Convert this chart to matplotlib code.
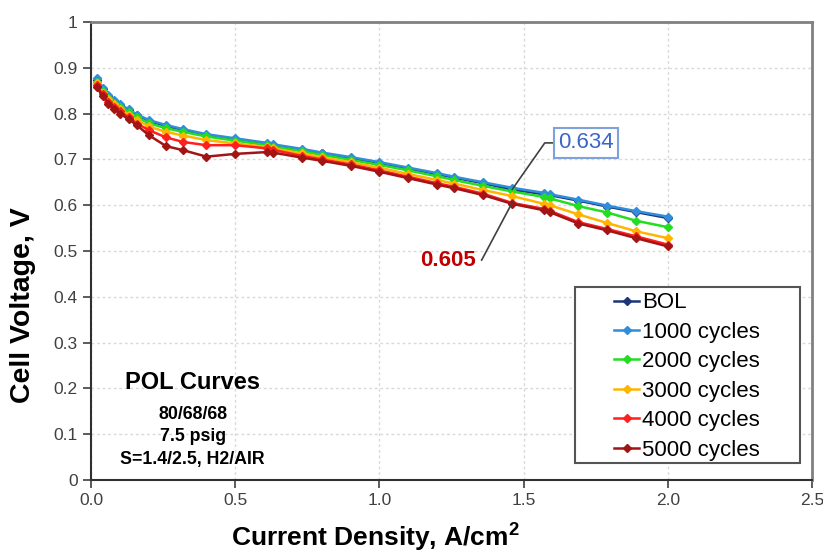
import matplotlib
matplotlib.use("Agg")
import matplotlib.pyplot as plt
from matplotlib.patches import Rectangle

plt.rcParams['font.family'] = ['Liberation Sans', 'DejaVu Sans']

# current density, A/cm2
current = [0.02, 0.04, 0.06, 0.08, 0.10, 0.13, 0.16, 0.20, 0.26, 0.32, 0.40, 0.50, 0.61, 0.63,
           0.73, 0.80, 0.90, 1.00, 1.10, 1.20, 1.26, 1.36, 1.46, 1.57, 1.59, 1.69, 1.79, 1.89, 2.00]

v_bol = [0.874, 0.853, 0.839, 0.828, 0.819, 0.807, 0.796, 0.784, 0.773, 0.764, 0.753, 0.744, 0.734, 0.731,
         0.721, 0.713, 0.703, 0.692, 0.680, 0.668, 0.660, 0.648, 0.634, 0.624, 0.622, 0.610, 0.597, 0.585, 0.572]
v_1000 = [0.877, 0.856, 0.841, 0.830, 0.821, 0.809, 0.798, 0.786, 0.775, 0.766, 0.755, 0.746, 0.736, 0.733,
          0.723, 0.715, 0.705, 0.694, 0.682, 0.670, 0.662, 0.650, 0.638, 0.627, 0.624, 0.612, 0.599, 0.587, 0.575]
v_2000 = [0.870, 0.850, 0.835, 0.824, 0.815, 0.803, 0.792, 0.779, 0.768, 0.760, 0.750, 0.741, 0.731, 0.728,
          0.718, 0.710, 0.699, 0.688, 0.676, 0.663, 0.655, 0.642, 0.630, 0.618, 0.615, 0.598, 0.584, 0.566, 0.552]
v_3000 = [0.866, 0.846, 0.831, 0.820, 0.810, 0.798, 0.786, 0.772, 0.760, 0.752, 0.742, 0.735, 0.727, 0.724,
          0.713, 0.705, 0.694, 0.682, 0.668, 0.655, 0.647, 0.633, 0.620, 0.603, 0.600, 0.580, 0.561, 0.543, 0.528]
v_4000 = [0.862, 0.842, 0.826, 0.815, 0.805, 0.792, 0.778, 0.764, 0.748, 0.738, 0.731, 0.731, 0.724, 0.721,
          0.708, 0.700, 0.689, 0.676, 0.662, 0.648, 0.640, 0.625, 0.605, 0.592, 0.588, 0.563, 0.548, 0.532, 0.514]
v_5000 = [0.858, 0.838, 0.822, 0.810, 0.800, 0.788, 0.774, 0.753, 0.729, 0.720, 0.706, 0.712, 0.716, 0.715,
          0.704, 0.697, 0.686, 0.673, 0.659, 0.645, 0.637, 0.622, 0.603, 0.589, 0.585, 0.560, 0.545, 0.528, 0.510]

labels = ["BOL", "1000 cycles", "2000 cycles", "3000 cycles", "4000 cycles", "5000 cycles"]
colors = ["#1c3478", "#2f8ddb", "#22dd22", "#ffb400", "#ff1f1f", "#a31515"]
series = [v_bol, v_1000, v_2000, v_3000, v_4000, v_5000]

fig = plt.figure(figsize=(8.23, 5.54), dpi=100)
ax = fig.add_axes([0.1106, 0.1336, 0.876, 0.8267])

for vals, lab, col in zip(series, labels, colors):
    ax.plot(current, vals, color=col, lw=1.8, marker="D", ms=4.5, label=lab)

ax.set_xlim(0, 2.5)
ax.set_ylim(0, 1)
ax.set_xticks([0, 0.5, 1.0, 1.5, 2.0, 2.5])
ax.set_xticklabels(["0.0", "0.5", "1.0", "1.5", "2.0", "2.5"])
ax.set_yticks([i / 10 for i in range(11)])
ax.set_yticklabels(["0", "0.1", "0.2", "0.3", "0.4", "0.5", "0.6", "0.7", "0.8", "0.9", "1"])
ax.tick_params(labelsize=12.5, labelcolor="#404040", color="#404040", length=6, width=1.2)
ax.grid(True, color="#d9d9d9", linestyle=(0, (2, 2)), lw=1)
ax.set_axisbelow(True)

for s in ["left", "bottom"]:
    ax.spines[s].set_color("#303030")
    ax.spines[s].set_linewidth(1.5)
for s in ["top", "right"]:
    ax.spines[s].set_color("#808080")
    ax.spines[s].set_linewidth(2)

ax.set_xlabel("Current Density, A/cm$^\\mathregular{2}$", fontsize=19, fontweight="bold")
ax.xaxis.set_label_coords(0.394, -0.088)
ax.set_ylabel("Cell Voltage, V", fontsize=20.5, fontweight="bold")
ax.yaxis.set_label_coords(-0.076, 0.382)

# legend with framed box
ax.add_patch(Rectangle((0.671, 0.037), 0.312, 0.384, transform=ax.transAxes,
                       fill=True, facecolor="white", edgecolor="#555555", lw=1.5, zorder=4))
leg = ax.legend(loc="center", bbox_to_anchor=(0.827, 0.226), frameon=False, fontsize=16,
                handlelength=1.1, handletextpad=0.15, labelspacing=0.38, borderpad=0)
leg.set_zorder(5)

# condition text
ax.text(0.141, 0.212, "POL Curves", transform=ax.transAxes, ha="center", va="center",
        fontsize=17, fontweight="bold")
cond = "80/68/68\n7.5 psig\nS=1.4/2.5, H2/AIR"
ax.text(0.141, 0.094, cond, transform=ax.transAxes, ha="center", va="center",
        fontsize=12.8, fontweight="bold", linespacing=1.45)

# value call-outs at 1.46 A/cm2
ax.annotate("0.634", xy=(current[22], v_bol[22]), xytext=(1.716, 0.736),
            ha="center", va="center", fontsize=16, color="#3a66c4",
            bbox=dict(boxstyle="square,pad=0.2", fc="white", ec="#7fa2dd", lw=1.5),
            arrowprops=dict(arrowstyle="-", color="#404040", lw=1.2,
                            connectionstyle="angle,angleA=0,angleB=55,rad=0", shrinkA=0, shrinkB=0))
ax.annotate("0.605", xy=(current[22], v_4000[22]), xytext=(1.238, 0.48),
            ha="center", va="center", fontsize=16, fontweight="bold", color="#c00000",
            arrowprops=dict(arrowstyle="-", color="#404040", lw=1.2,
                            connectionstyle="angle,angleA=0,angleB=62,rad=0", shrinkA=2, shrinkB=0))

fig.savefig("out.png", dpi=100)
